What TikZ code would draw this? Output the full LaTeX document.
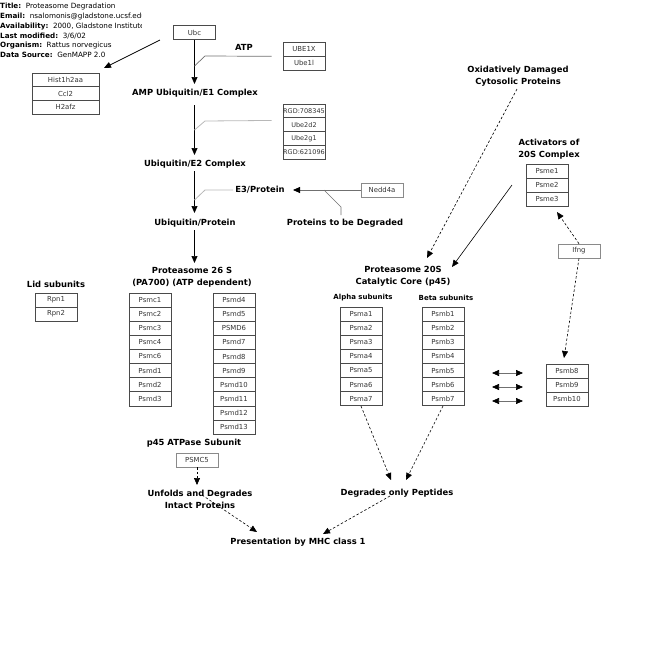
\documentclass[tikz,border=0pt]{standalone}
\usepackage{fontspec}
\setmainfont{DejaVu Sans}
\usetikzlibrary{arrows.meta}
\definecolor{boxgray}{HTML}{4A4A4A}
\definecolor{lightbox}{HTML}{8A8A8A}
\definecolor{txtgray}{HTML}{333333}
\definecolor{lgray}{HTML}{B8B8B8}
\definecolor{mgray}{HTML}{707070}
\newcommand\cellfont{\fontsize{6.9}{8}\selectfont}
\newcommand\lblfont{\fontsize{8.4}{12}\selectfont\bfseries}
\newcommand\slblfont{\fontsize{7}{8}\selectfont\bfseries}
\newcommand\stackw{42}
\newcommand\mystack[5]{%
  \foreach \t [count=\i] in {#5} {%
    \node[cell, minimum width=\stackw pt, minimum height=#4pt] (#1\i) at ({#2+\stackw/2},{#3+(\i-0.5)*#4}) {\t};
  }%
}
\begin{document}
\begin{tikzpicture}[x=1pt,y=-1pt,
  cell/.style={draw=boxgray, line width=0.6pt, minimum width=42pt, inner sep=0pt,
    font=\cellfont, text=txtgray},
  lcell/.style={cell, draw=lightbox},
  lbl/.style={font=\lblfont, inner sep=0pt, align=center},
  slbl/.style={font=\slblfont, inner sep=0pt, align=center},
  hdr/.style={font=\fontsize{7.2}{8}\selectfont, inner sep=0pt, anchor=west},
  arr/.style={-{Triangle[length=7pt,width=6pt]}, line width=0.7pt},
  darr/.style={arr, dash pattern=on 2.5pt off 2pt, line width=0.6pt},
  gline/.style={draw=lgray, line width=0.8pt},
  mline/.style={draw=mgray, line width=0.7pt},
  barr/.style={{Triangle[length=7pt,width=6pt,color=black]}-{Triangle[length=7pt,width=6pt,color=black]}, draw=mgray, line width=0.7pt}
]
\useasboundingbox (0,0) rectangle (670,649);

% header
\begin{scope}
\clip (0,0) rectangle (141,62);
\node[hdr] (h1) at (0,7) {\textbf{Title:}\ \ Proteasome Degradation};
\node[hdr] (h2) at (0,17) {\textbf{Email:}\ \ nsalomonis@gladstone.ucsf.edu};
\node[hdr] (h3) at (0,27) {\textbf{Availability:}\ \ 2000, Gladstone Institute};
\node[hdr] (h4) at (0,36) {\textbf{Last modified:}\ \ 3/6/02};
\node[hdr] (h5) at (0,46) {\textbf{Organism:}\ \ Rattus norvegicus};
\node[hdr] (h6) at (0,55) {\textbf{Data Source:}\ \ GenMAPP 2.0};
\end{scope}

% boxes
\node[cell, minimum height=13.5pt] (ubc) at (194.5,32.5) {Ubc};
\renewcommand\stackw{67}
\mystack{hist}{32}{73}{13.7}{Hist1h2aa,Ccl2,H2afz}
\renewcommand\stackw{42}
\mystack{ube}{283}{42}{14}{UBE1X,Ube1l}
\begin{scope}[cell/.append style={font=\fontsize{6.5}{7}\selectfont}]
\mystack{rgd}{283}{104}{13.75}{RGD:708345,Ube2d2,Ube2g1,RGD:621096}
\end{scope}
\node[lcell, minimum height=14pt] (nedd) at (382,190) {Nedd4a};
\mystack{rpn}{35}{293}{14}{Rpn1,Rpn2}
\mystack{psmc}{129}{293}{14.1}{Psmc1,Psmc2,Psmc3,Psmc4,Psmc6,Psmd1,Psmd2,Psmd3}
\mystack{psmd}{213}{293}{14.1}{Psmd4,Psmd5,PSMD6,Psmd7,Psmd8,Psmd9,Psmd10,Psmd11,Psmd12,Psmd13}
\node[lcell, minimum height=14pt] (psmcv) at (197,460) {PSMC5};
\mystack{psme}{526}{164}{14}{Psme1,Psme2,Psme3}
\node[lcell, minimum height=14pt] (ifng) at (579,251) {Ifng};
\mystack{psma}{340}{307}{14.1}{Psma1,Psma2,Psma3,Psma4,Psma5,Psma6,Psma7}
\mystack{psmb}{422}{307}{14.1}{Psmb1,Psmb2,Psmb3,Psmb4,Psmb5,Psmb6,Psmb7}
\mystack{psmbx}{546}{364}{14}{Psmb8,Psmb9,Psmb10}

% labels
\node[lbl] (atp) at (244,47) {ATP};
\node[lbl] (amp) at (195,93) {AMP Ubiquitin/E1 Complex};
\node[lbl] (e2) at (195,164) {Ubiquitin/E2 Complex};
\node[lbl] (e3) at (260,190) {E3/Protein};
\node[lbl] (up) at (195,223) {Ubiquitin/Protein};
\node[lbl] (deg) at (345,223) {Proteins to be Degraded};
\node[lbl] (p26) at (192,277) {Proteasome 26 S\\(PA700) (ATP dependent)};
\node[lbl] (lid) at (56,284) {Lid subunits};
\node[lbl] (p45) at (194,443) {p45 ATPase Subunit};
\node[lbl] (unf) at (200,499) {Unfolds and Degrades\\Intact Proteins};
\node[lbl] (dop) at (397,493) {Degrades only Peptides};
\node[lbl] (mhc) at (298,542) {Presentation by MHC class 1};
\node[lbl] (oxi) at (518,76.5) {Oxidatively Damaged\\Cytosolic Proteins};
\node[lbl] (act) at (549,149) {Activators of\\20S Complex};
\node[lbl] (p20) at (403,276) {Proteasome 20S\\Catalytic Core (p45)};
\node[slbl] (alpha) at (363,298) {Alpha subunits};
\node[slbl] (beta) at (446,298) {Beta subunits};

% coordinates
\coordinate (c1s) at (160,40);
\coordinate (c1e) at (104,68);
\coordinate (atpk) at (205,56);
\coordinate (atpj) at (194.5,66);
\coordinate (e2k) at (205,121);
\coordinate (e2j) at (194.5,130);
\coordinate (e3k) at (205,190);
\coordinate (e3j) at (194.5,200);
\coordinate (nedtip) at (293,190);
\coordinate (brs) at (324,190);
\coordinate (brk) at (341,207);
\coordinate (bre) at (341,215);
\coordinate (unfs) at (202,495);
\coordinate (unfe) at (257,532);
\coordinate (dops) at (390,496);
\coordinate (dope) at (323,534);
\coordinate (atip) at (391,480);
\coordinate (btip) at (406,480);
\coordinate (oxs) at (517,89);
\coordinate (oxe) at (427,258);
\coordinate (acs) at (512,185);
\coordinate (ace) at (452,267);
\coordinate (ift) at (557,212);
\coordinate (ifb) at (564,358);

% connectors
\draw[arr] (c1s) -- (c1e);
\draw[arr] (ubc.south) -- (194.5,84);
\draw[mline] ([xshift=-11pt]ube1.south west) -- (atpk) -- (atpj);
\draw[arr] (194.5,105) -- (194.5,155);
\draw[gline] ([xshift=-11pt]rgd2.north west) ++(0,3) -- (e2k) -- (e2j);
\draw[arr] (194.5,171) -- (194.5,213);
\draw[gline] ([xshift=-2pt]e3.west) -- (e3k) -- (e3j);
\draw[draw=mgray, line width=0.8pt, -{Triangle[length=7pt,width=6pt,color=black]}] (nedd.west) -- (nedtip);
\draw[mline] (brs) -- (brk) -- (bre);
\draw[arr] (194.5,230) -- (194.5,263);
\draw[darr] (psmcv.south) -- (197,485);
\draw[darr] (unfs) -- (unfe);
\draw[darr] (dops) -- (dope);
\draw[darr] (psma7.south) -- (atip);
\draw[darr] (psmb7.south) -- (btip);
\draw[darr] (oxs) -- (oxe);
\draw[arr, line width=0.6pt] (acs) -- (ace);
\draw[darr] (ifng.north) -- (ift);
\draw[darr] (ifng.south) -- (ifb);
\foreach \yy/\n in {373/1,387/2,401/3} {
  \coordinate (dl\n) at (492,\yy);
  \coordinate (dr\n) at (523,\yy);
  \draw[barr] (dl\n) -- (dr\n);
}
\end{tikzpicture}
\end{document}
